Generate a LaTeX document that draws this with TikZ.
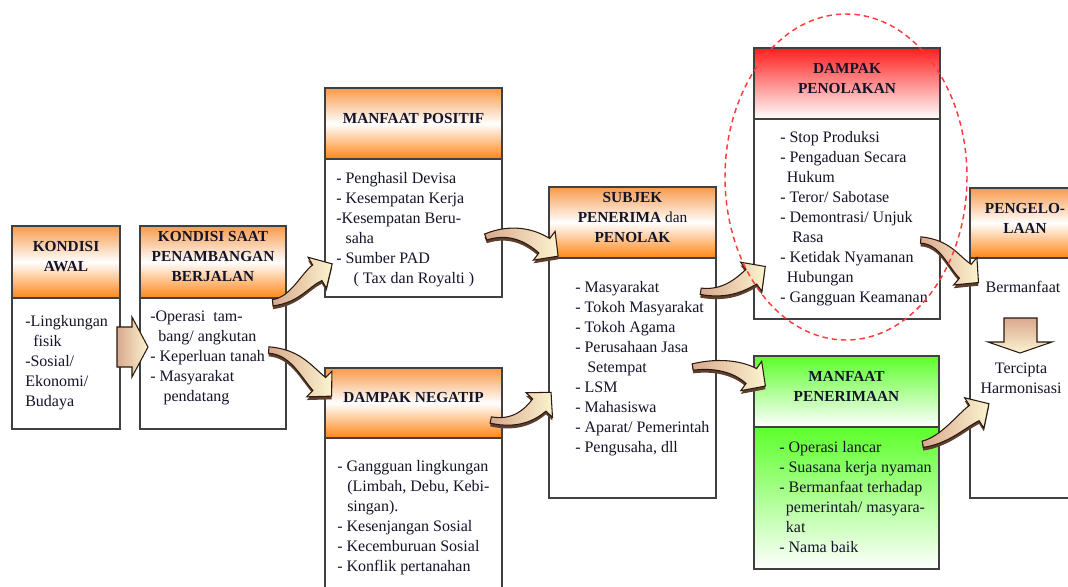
\documentclass[tikz,border=0pt]{standalone}
\usepackage{fontspec}
\setmainfont{Liberation Serif}
\usetikzlibrary{calc,fit}
\definecolor{boxgray}{HTML}{404040}
\definecolor{orTop}{HTML}{F79A4C}
\definecolor{orBot}{HTML}{FF8514}
\definecolor{redTop}{HTML}{FF1E1E}
\definecolor{grTop}{HTML}{5CFF2A}
\definecolor{arA}{HTML}{D9A88E}
\definecolor{arB}{HTML}{FBF4CF}
\definecolor{arEdge}{HTML}{2A1A10}
\definecolor{arSide}{HTML}{5E3E2C}
\definecolor{dashRed}{HTML}{FF3B3B}
\definecolor{txt}{HTML}{141428}
\newcommand\myhdrfont{\fontsize{11.5}{15}\selectfont\bfseries}
\newcommand\mybodyfont{\fontsize{12}{15}\selectfont}
\newcommand\blockarrow[4]{%
  \coordinate (ca) at (#1);
  \coordinate (cb) at (#2);
  \coordinate (cc) at (#3);
  \coordinate (cn) at (#4);
  \coordinate (aL) at ($(ca)!2.4pt!90:(cb)$);
  \coordinate (aR) at ($(ca)!2.4pt!-90:(cb)$);
  \coordinate (bL) at ($(cb)!4pt!90:(cc)$);
  \coordinate (bR) at ($(cb)!4pt!-90:(cc)$);
  \coordinate (cL) at ($(cc)!5.6pt!90:(cn)$);
  \coordinate (cR) at ($(cc)!5.6pt!-90:(cn)$);
  \coordinate (nL) at ($(cn)!6.8pt!-90:(cc)$);
  \coordinate (nR) at ($(cn)!6.8pt!90:(cc)$);
  \coordinate (hL) at ($(cn)!13.5pt!-90:(cc)$);
  \coordinate (hR) at ($(cn)!13.5pt!90:(cc)$);
  \coordinate (tp) at ($(cn)!-13pt!(cc)$);
  \begin{scope}[transform canvas={yshift=-2.4pt}]
    \fill[arSide] (aL) .. controls (bL) and (cL) .. (nL) -- (hL) -- (tp) -- (hR) -- (nR) .. controls (cR) and (bR) .. (aR) -- cycle;
  \end{scope}
  \path[arrowbody] (aL) .. controls (bL) and (cL) .. (nL) -- (hL) -- (tp) -- (hR) -- (nR) .. controls (cR) and (bR) .. (aR) -- cycle;
}
\tikzset{
  boxline/.style={draw=boxgray, line width=1.1pt, inner sep=0pt},
  hdrtxt/.style={font=\myhdrfont, align=center, text=txt},
  orangehdr/.style={boxline, hdrtxt, top color=orTop, bottom color=orBot, middle color=white},
  redhdr/.style={boxline, hdrtxt, top color=redTop, bottom color=white},
  greenhdr/.style={boxline, hdrtxt, top color=grTop, bottom color=white},
  greenbody/.style={boxline, top color=grTop, bottom color=white},
  whitebody/.style={boxline, fill=white},
  bodytxt/.style={font=\mybodyfont, align=left, inner sep=0pt, anchor=north west, text=txt},
  arrowbody/.style={draw=arEdge, line width=0.8pt, left color=arA, right color=arB},
  ring/.style={draw=dashRed, line width=1.1pt, dash pattern=on 4pt off 3pt}
}
\begin{document}
\begin{tikzpicture}[x=0.75pt,y=-0.75pt]
\useasboundingbox (0,0) rectangle (1068,586);
\clip (0,0) rectangle (1068,586);
\fill[white] (0,0) rectangle (1068,586);

% boxes
\node[orangehdr, fit={(12,226)(120,298)}] (b1h) {KONDISI\\AWAL};
\node[whitebody, fit={(12,298)(120,429)}] (b1b) {};
\node[orangehdr, fit={(140,226)(286,298)}] (b2h) {KONDISI SAAT\\PENAMBANGAN\\BERJALAN};
\node[whitebody, fit={(140,298)(286,429)}] (b2b) {};
\node[orangehdr, fit={(325,88)(502,159)}] (b3h) {MANFAAT POSITIF};
\node[whitebody, fit={(325,159)(502,297)}] (b3b) {};
\node[orangehdr, fit={(325,368)(502,438)}] (b4h) {DAMPAK NEGATIP};
\node[whitebody, fit={(325,438)(502,600)}] (b4b) {};
\node[orangehdr, fit={(549,187)(716,258)}] (b5h) {SUBJEK\\PENERIMA \textmd{dan}\\PENOLAK};
\node[whitebody, fit={(549,258)(716,498)}] (b5b) {};
\node[redhdr, fit={(754,48)(940,119)}] (b6h) {DAMPAK\\PENOLAKAN};
\node[whitebody, fit={(754,119)(940,319)}] (b6b) {};
\node[greenhdr, fit={(754,356)(939,427)}] (b7h) {MANFAAT\\PENERIMAAN};
\node[greenbody, fit={(754,427)(939,569)}] (b7b) {};
\node[orangehdr, fit={(970,188)(1080,258)}] (b8h) {PENGELO-\\LAAN};
\node[whitebody, fit={(970,258)(1080,498)}] (b8b) {};

% body texts
\node[bodytxt] (b1t) at (25,315) {-Lingkungan\\\hspace*{6pt}fisik\\-Sosial/\\Ekonomi/\\Budaya};
\node[bodytxt] (b2t) at (150,311) {-Operasi\ \ tam-\\\hspace*{6pt}bang/ angkutan\\- Keperluan tanah\\- Masyarakat\\\hspace*{10pt}pendatang};
\node[bodytxt] (b3t) at (336,172) {- Penghasil Devisa\\- Kesempatan Kerja\\-Kesempatan Beru-\\\hspace*{7pt}saha\\- Sumber PAD\\\hspace*{13pt}( Tax dan Royalti )};
\node[bodytxt] (b4t) at (337,460) {- Gangguan lingkungan\\\hspace*{7.5pt}(Limbah, Debu, Kebi-\\\hspace*{7.5pt}singan).\\- Kesenjangan Sosial\\- Kecemburuan Sosial\\- Konflik pertanahan};
\node[bodytxt] (b5t) at (575,281) {- Masyarakat\\- Tokoh Masyarakat\\- Tokoh Agama\\- Perusahaan Jasa\\\hspace*{9pt}Setempat\\- LSM\\- Mahasiswa\\- Aparat/ Pemerintah\\- Pengusaha, dll};
\node[bodytxt] (b6t) at (780,131) {- Stop Produksi\\- Pengaduan Secara\\\hspace*{5pt}Hukum\\- Teror/ Sabotase\\- Demontrasi/ Unjuk\\\hspace*{9pt}Rasa\\- Ketidak Nyamanan\\\hspace*{5pt}Hubungan\\- Gangguan Keamanan};
\node[bodytxt] (b7t) at (779,441) {- Operasi lancar\\- Suasana kerja nyaman\\- Bermanfaat terhadap\\\hspace*{5pt}pemerintah/ masyara-\\\hspace*{5pt}kat\\- Nama baik};
\node[bodytxt, anchor=north, align=center] (b8t1) at (1023,281) {Bermanfaat};
\node[bodytxt, anchor=north, align=center] (b8t2) at (1021,363) {Tercipta\\Harmonisasi};

% straight block arrows
\path[arrowbody] (117,327) -- (132,327) -- (132,317) -- (148,347) -- (132,377) -- (132,367) -- (117,367) -- cycle;
\path[arrowbody, top color=arA, bottom color=arB] (1004,318) -- (1037,318) -- (1037,342) -- (1052,342) -- (1020,353) -- (988,342) -- (1004,342) -- cycle;

% curved block arrows
\blockarrow{$(b2h.south east)+(-14,4)$}{295,300}{305,280}{$(b3b.south west)+(-7,-25)$}
\blockarrow{$(b2b.east)+(-18,-13.5)$}{295,352}{305,370}{$(b4h.west)+(-5,-19)$}
\blockarrow{$(b3b.east)+(-17,9)$}{510,228}{530,235}{$(b5h.south west)+(-4,-13)$}
\blockarrow{$(b4h.east)+(-12,17)$}{515,425}{530,415}{$(b5b.west)+(-9,27)$}
\blockarrow{$(b5b.north east)+(-16,34)$}{725,295}{740,285}{$(b6b.south west)+(-2,-43)$}
\blockarrow{$(b5b.east)+(-24,-11)$}{720,362}{740,368}{$(b7h.west)+(-2,-15.5)$}
\blockarrow{$(b6b.east)+(-20,21)$}{945,242}{952,260}{$(b8b.north west)+(-4,14)$}
\blockarrow{$(b7b.north east)+(-17,18)$}{945,440}{960,422}{$(b8b.west)+(5,35)$}

% dashed ring
\draw[ring] (846,177) ellipse [x radius=121, y radius=163];
\end{tikzpicture}
\end{document}
